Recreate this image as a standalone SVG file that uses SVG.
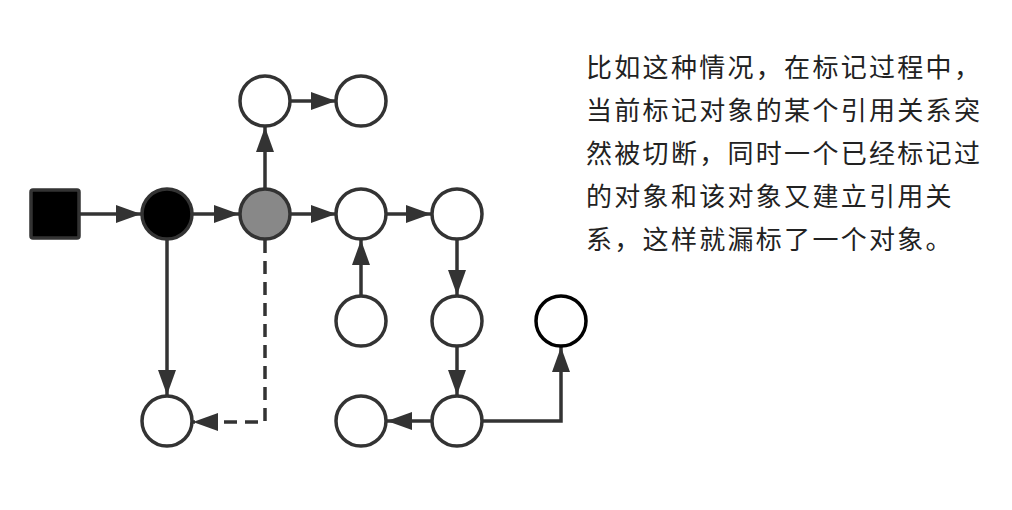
<svg xmlns="http://www.w3.org/2000/svg" width="1012" height="510" viewBox="0 0 1012 510">
<defs>
<style>
.n{fill:#fff;stroke:#333;stroke-width:3.5}
.e{fill:none;stroke:#333;stroke-width:3.5}
.d{stroke-dasharray:13 8;stroke-width:3.5}
.t{font-family:"Noto Sans CJK SC","Noto Sans",sans-serif;font-size:26px;fill:#222;letter-spacing:2.3px}
</style>
<marker id="a" markerUnits="userSpaceOnUse" markerWidth="26" markerHeight="20" refX="25" refY="9" orient="auto">
<path d="M0,0 L25,9 L0,18 Z" fill="#333"/>
</marker>
</defs>
<rect width="1012" height="510" fill="#fff"/>
<g id="connectors">
<path class="e" d="M79,214 H141" marker-end="url(#a)"/>
<path class="e" d="M193,214 H239" marker-end="url(#a)"/>
<path class="e" d="M291,214 H336" marker-end="url(#a)"/>
<path class="e" d="M265,188 V127" marker-end="url(#a)"/>
<path class="e" d="M291,101 H336" marker-end="url(#a)"/>
<path class="e" d="M387,214 H431" marker-end="url(#a)"/>
<path class="e" d="M361,295 V240" marker-end="url(#a)"/>
<path class="e" d="M457,240 V295" marker-end="url(#a)"/>
<path class="e" d="M457,347 V395" marker-end="url(#a)"/>
<path class="e" d="M431,421 H387" marker-end="url(#a)"/>
<path class="e" d="M483,421 H561 V347" marker-end="url(#a)"/>
<path class="e" d="M167,240 V395" marker-end="url(#a)"/>
<path class="e d" d="M265,240 V422 H193" marker-end="url(#a)"/>
</g>
<g id="root"><rect x="31" y="190" width="48" height="48" rx="2" fill="#000" stroke="#333" stroke-width="3.5"/></g>
<g id="black"><circle cx="167" cy="214" r="25" fill="#000" stroke="#333" stroke-width="3.5"/></g>
<g id="gray"><circle cx="265" cy="214" r="25" fill="#888" stroke="#333" stroke-width="3.5"/></g>
<g id="top1"><circle class="n" cx="265" cy="101" r="25"/></g>
<g id="top2"><circle class="n" cx="361" cy="101" r="25"/></g>
<g id="r1"><circle class="n" cx="361" cy="214" r="25"/></g>
<g id="r2"><circle class="n" cx="457" cy="214" r="25"/></g>
<g id="m1"><circle class="n" cx="361" cy="321" r="25"/></g>
<g id="m2"><circle class="n" cx="457" cy="321" r="25"/></g>
<g id="m3"><circle cx="561" cy="321" r="25" fill="#fff" stroke="#000" stroke-width="3.5"/></g>
<g id="b1"><circle class="n" cx="167" cy="421" r="25"/></g>
<g id="b2"><circle class="n" cx="361" cy="421" r="25"/></g>
<g id="b3"><circle class="n" cx="457" cy="421" r="25"/></g>
<g id="note">
<text class="t" x="586" y="77">比如这种情况，在标记过程中，</text>
<text class="t" x="586" y="120">当前标记对象的某个引用关系突</text>
<text class="t" x="586" y="163">然被切断，同时一个已经标记过</text>
<text class="t" x="586" y="206">的对象和该对象又建立引用关</text>
<text class="t" x="586" y="249">系，这样就漏标了一个对象。</text>
</g>
</svg>
